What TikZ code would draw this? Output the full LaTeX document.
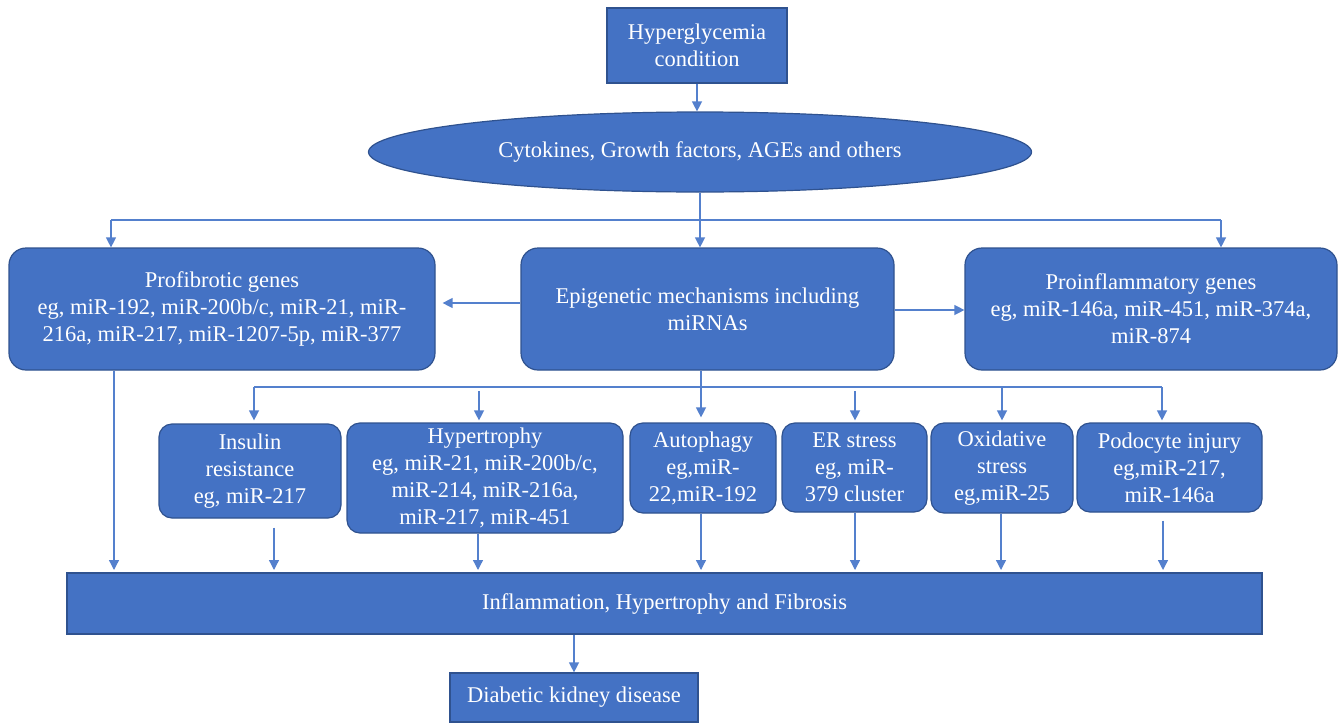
\documentclass[tikz,border=0pt]{standalone}
\usepackage{fontspec}
\setmainfont{Liberation Serif}
\usetikzlibrary{arrows.meta,shapes.geometric}
\definecolor{boxfill}{RGB}{68,114,196}
\definecolor{boxline}{RGB}{47,82,143}
\definecolor{arrowc}{RGB}{84,128,205}
\begin{document}
\begin{tikzpicture}[x=1pt,y=-1pt,
  every node/.style={font=\fontsize{22.5}{27}\selectfont, text=white, align=center, inner sep=0pt},
  sq/.style={draw=boxline, fill=boxfill, line width=1.2pt, rectangle},
  rbox/.style={sq, rounded corners=17pt},
  sbox/.style={sq, rounded corners=13pt},
  oval/.style={ellipse, draw=boxline, fill=boxfill, line width=1.2pt},
  link/.style={draw=arrowc, line width=1.3pt},
  arr/.style={link, -{Triangle[width=10pt,length=10pt]}},
]
\useasboundingbox (0,0) rectangle (1341,723);

% nodes
\node[sq, minimum width=180pt, minimum height=75pt] (hyper) at (697,45.5) {Hyperglycemia\\condition};
\node[oval, minimum width=663pt, minimum height=80pt] (cyt) at (700,152) {Cytokines, Growth factors, AGEs and others};

\node[rbox, minimum width=426pt, minimum height=122pt] (profib) at (222,309) {Profibrotic genes\\eg, miR-192, miR-200b/c, miR-21, miR-\\216a, miR-217, miR-1207-5p, miR-377};
\node[rbox, minimum width=373pt, minimum height=122pt] (epi) at (707.5,309) {Epigenetic mechanisms including\\miRNAs};
\node[rbox, minimum width=372pt, minimum height=122pt] (proinf) at (1151,309) {Proinflammatory genes\\eg, miR-146a, miR-451, miR-374a,\\miR-874};

\node[sbox, minimum width=182pt, minimum height=94pt] (ins) at (250,471) {Insulin\\resistance\\eg, miR-217};
\node[sbox, minimum width=276pt, minimum height=110pt] (hyp) at (485,478) {Hypertrophy\\eg, miR-21, miR-200b/c,\\miR-214, miR-216a,\\miR-217, miR-451};
\node[sbox, minimum width=146pt, minimum height=90pt] (auto) at (703,468) {Autophagy\\eg,miR-\\22,miR-192};
\node[sbox, minimum width=145pt, minimum height=89pt] (er) at (854.5,467.5) {ER stress\\eg, miR-\\379 cluster};
\node[sbox, minimum width=142pt, minimum height=90pt] (oxi) at (1002,468) {Oxidative\\stress\\eg,miR-25};
\node[sbox, minimum width=185pt, minimum height=89pt] (podo) at (1169.5,467.5) {Podocyte injury\\eg,miR-217,\\miR-146a};

\node[sq, minimum width=1195pt, minimum height=61pt] (bar) at (664.5,603.5) {Inflammation, Hypertrophy and Fibrosis};
\node[sq, minimum width=248pt, minimum height=49pt] (dkd) at (574,697.5) {Diabetic kidney disease};

% top connectors
\coordinate (bl) at (111,220);
\coordinate (bc) at (700,220);
\coordinate (br) at (1221,220);
\draw[arr] (hyper.south) -- (hyper.south |- cyt.north);
\draw[link] (cyt.south) -- (bc);
\draw[link] (bl) -- (br);
\draw[arr] (bc) -- (bc |- epi.north);
\draw[arr] (bl) -- (bl |- profib.north);
\draw[arr] (br) -- (br |- proinf.north);
\draw[arr, shorten >=7pt] ([yshift=6pt]epi.west) -- ([yshift=6pt]epi.west -| profib.east);
\draw[arr] ([yshift=-1pt]epi.east) -- ([yshift=-1pt]epi.east -| proinf.west);

% middle connectors
\coordinate (t1) at (254,387);
\coordinate (t2) at (479,387);
\coordinate (t3) at (701,387);
\coordinate (t4) at (855,387);
\coordinate (t5) at (1002,387);
\coordinate (t6) at (1162,387);
\draw[link] (t3 |- epi.south) -- (t3);
\draw[link] (t1) -- (t6);
\draw[arr, shorten >=3pt] (t1) -- (t1 |- ins.north);
\draw[arr, shorten <=4pt, shorten >=2pt] (t2) -- (t2 |- hyp.north);
\draw[arr, shorten >=5pt] (t3) -- (t3 |- auto.north);
\draw[arr, shorten <=4pt, shorten >=2pt] (t4) -- (t4 |- er.north);
\draw[arr, shorten >=2pt] (t5) -- (t5 |- oxi.north);
\draw[arr, shorten >=2pt] (t6) -- (t6 |- podo.north);

% bottom connectors
\coordinate (u1) at (114,573);
\coordinate (u2) at (274,573);
\coordinate (u3) at (478,573);
\coordinate (u4) at (701,573);
\coordinate (u5) at (855,573);
\coordinate (u6) at (1001,573);
\coordinate (u7) at (1163,573);
\draw[arr, shorten >=3pt] (u1 |- profib.south) -- (u1);
\draw[arr, shorten <=9pt, shorten >=3pt] (u2 |- ins.south) -- (u2);
\draw[arr, shorten >=3pt] (u3 |- hyp.south) -- (u3);
\draw[arr, shorten >=3pt] (u4 |- auto.south) -- (u4);
\draw[arr, shorten >=3pt] (u5 |- er.south) -- (u5);
\draw[arr, shorten >=3pt] (u6 |- oxi.south) -- (u6);
\draw[arr, shorten <=8pt, shorten >=3pt] (u7 |- podo.south) -- (u7);
\draw[arr] (dkd.north |- bar.south) -- (dkd.north);
\end{tikzpicture}
\end{document}
